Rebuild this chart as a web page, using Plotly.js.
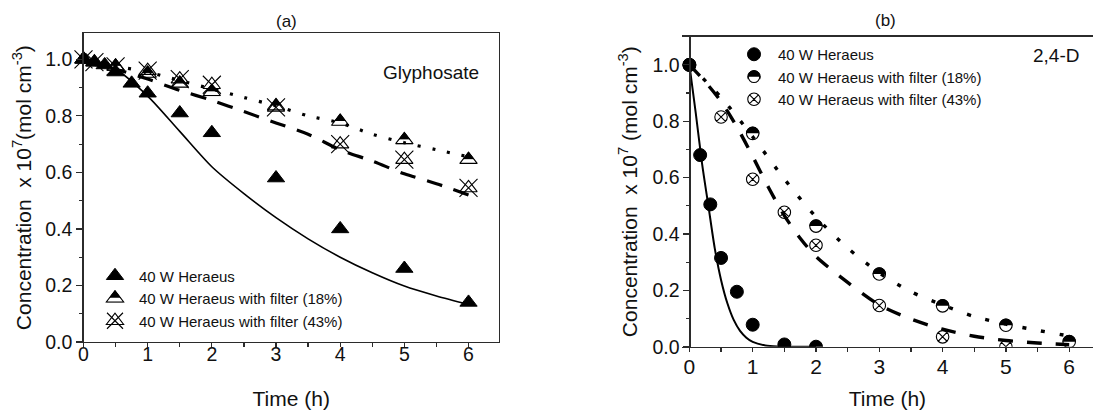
<!DOCTYPE html>
<html><head><meta charset="utf-8">
<script src="https://cdn.plot.ly/plotly-3.0.1.min.js"></script>
<style>html,body{margin:0;padding:0;background:#fff}#chart{width:1093px;height:410px}</style>
</head><body><div id="chart"></div>
<script>
// ---------- Panel (a): Glyphosate ----------
const glyTimeHeraeus = [0, 0.17, 0.33, 0.5, 0.75, 1, 1.5, 2, 3, 4, 5, 6];
const glyConcHeraeus = [1.0, 0.99, 0.98, 0.955, 0.915, 0.88, 0.81, 0.74, 0.58, 0.40, 0.26, 0.14];
const glyTimeFilter18 = [0, 0.5, 1, 1.5, 2, 3, 4, 5, 6];
const glyConcFilter18 = [1.0, 0.975, 0.95, 0.915, 0.885, 0.835, 0.78, 0.715, 0.645];
const glyTimeFilter43 = [0, 0.17, 0.5, 1, 1.5, 2, 3, 4, 5, 6];
const glyConcFilter43 = [1.0, 0.99, 0.975, 0.96, 0.93, 0.91, 0.83, 0.70, 0.645, 0.545];
const glyFitTime = [0, 0.5, 1, 1.5, 2, 2.5, 3, 3.5, 4, 4.5, 5, 5.5, 6];
const glyFitHeraeus = [1.0, 0.965, 0.87, 0.745, 0.62, 0.525, 0.44, 0.365, 0.30, 0.245, 0.198, 0.163, 0.133];
const glyFitFilter18 = [0.99, 0.975, 0.955, 0.925, 0.895, 0.865, 0.835, 0.80, 0.775, 0.735, 0.705, 0.68, 0.655];
const glyFitFilter43 = [0.99, 0.965, 0.93, 0.89, 0.855, 0.815, 0.775, 0.735, 0.68, 0.64, 0.595, 0.56, 0.52];

// ---------- Panel (b): 2,4-D ----------
const dTimeHeraeus = [0, 0.17, 0.33, 0.5, 0.75, 1, 1.5, 2];
const dConcHeraeus = [1.0, 0.68, 0.505, 0.315, 0.195, 0.078, 0.008, 0.0];
const dTimeFilter18 = [0, 1, 2, 3, 4, 5, 6];
const dConcFilter18 = [1.0, 0.757, 0.428, 0.258, 0.145, 0.076, 0.018];
const dTimeFilter43 = [0, 0.5, 1, 1.5, 2, 3, 4, 5];
const dConcFilter43 = [1.0, 0.815, 0.594, 0.477, 0.36, 0.146, 0.035, 0.0];
const dFitTimeHeraeus = [0, 0.1, 0.2, 0.3, 0.4, 0.5, 0.6, 0.7, 0.8, 0.9, 1.0, 1.2, 1.4, 1.7, 2.0];
const dFitHeraeus = [1.0, 0.83, 0.65, 0.50, 0.35, 0.237, 0.154, 0.095, 0.056, 0.032, 0.017, 0.0045, 0.001, 0, 0];
const dFitTime18 = [0, 0.5, 1, 1.5, 2, 2.5, 3, 3.5, 4, 4.5, 5, 5.5, 6];
const dFitFilter18 = [1.0, 0.885, 0.745, 0.595, 0.46, 0.35, 0.262, 0.195, 0.148, 0.107, 0.08, 0.058, 0.038];
const dFitTime43 = [0, 0.25, 0.5, 0.75, 1, 1.25, 1.5, 1.75, 2, 2.5, 3, 3.5, 4, 4.5, 5, 5.5, 6];
const dFitFilter43 = [1.0, 0.94, 0.87, 0.78, 0.675, 0.565, 0.465, 0.385, 0.32, 0.228, 0.148, 0.098, 0.062, 0.037, 0.022, 0.013, 0.007];

const seriesNames = ['40 W Heraeus', '40 W Heraeus with filter (18%)', '40 W Heraeus with filter (43%)'];
const panelTitles = ['(a)', '(b)'];
const compoundLabels = ['Glyphosate', '2,4-D'];
const xTitle = 'Time (h)';
const yTitleA = 'Concentration\u00a0 x 10<sup>7</sup>(mol cm<sup>-3</sup>)';
const yTitleB = 'Concentration\u00a0 x 10<sup>7</sup> (mol cm<sup>-3</sup>)';

const FONT = 'Arial, "Liberation Sans", sans-serif';
const AX = '#2b2b2b';
const CLEAR = 'rgba(0,0,0,0)';

function line(x, y, xa, ya, width, dash) {
  return {x: x, y: y, xaxis: xa, yaxis: ya, mode: 'lines', showlegend: false, hoverinfo: 'skip',
    line: {color: '#000', width: width, dash: dash, shape: 'spline', smoothing: 0.8}};
}
function pts(x, y, xa, ya, marker, extra) {
  return Object.assign({x: x, y: y, xaxis: xa, yaxis: ya, mode: 'markers', marker: marker, hoverinfo: 'skip'}, extra);
}
// legend-only overlay layer entries (no data points, empty label)
function overlay(xa, ya, legend, rank, marker) {
  return {x: [null], y: [null], xaxis: xa, yaxis: ya, mode: 'markers', legend: legend, legendrank: rank,
    name: '', hoverinfo: 'skip',
    marker: marker || {color: CLEAR, size: 10, line: {width: 0, color: CLEAR}}};
}

const TRI = 15;
const data = [
  // overlay legend layers for panel (a) (listed first so they stack in order)
  overlay('x', 'y', 'legend2', 1),
  overlay('x', 'y', 'legend2', 2, {symbol: 'line-ew', size: 13, angle: 180, standoff: 1.9, color: '#fff', line: {color: '#fff', width: 4.8}}),
  overlay('x', 'y', 'legend3', 1),
  overlay('x', 'y', 'legend3', 2, {symbol: 'triangle-up-open', size: TRI, color: '#000', line: {color: '#000', width: 1.1}}),
  overlay('x', 'y', 'legend3', 3),

  // panel (a) fitted curves (drawn on the label-carrying time axis x3, same scale as x)
  line(glyFitTime, glyFitHeraeus, 'x3', 'y', 1.6, 'solid'),
  line(glyFitTime, glyFitFilter18, 'x3', 'y', 3.2, '3px,12px'),
  line(glyFitTime, glyFitFilter43, 'x3', 'y', 3.2, '16px,12px'),
  // 18% : half filled triangles (black base, white lower band, outline)
  pts(glyTimeFilter18, glyConcFilter18, 'x', 'y', {symbol: 'triangle-up', size: TRI, color: '#000', line: {color: '#000', width: 1}},
      {name: seriesNames[1], legend: 'legend', legendrank: 2, cliponaxis: false}),
  pts(glyTimeFilter18, glyConcFilter18, 'x', 'y', {symbol: 'line-ew', size: 13, standoff: 1.9, line: {color: '#fff', width: 4.8}},
      {showlegend: false, cliponaxis: false}),
  pts(glyTimeFilter18, glyConcFilter18, 'x', 'y', {symbol: 'triangle-up-open', size: TRI, color: '#000', line: {color: '#000', width: 1.1}},
      {showlegend: false, cliponaxis: false}),
  // 43% : open triangle with a cross
  pts(glyTimeFilter43, glyConcFilter43, 'x', 'y', {symbol: 'triangle-up-open', size: TRI, color: '#000', line: {color: '#000', width: 1.1}},
      {name: seriesNames[2], legend: 'legend', legendrank: 3, cliponaxis: false}),
  pts(glyTimeFilter43, glyConcFilter43, 'x', 'y', {symbol: 'x-thin-open', size: 18, color: '#000', line: {color: '#000', width: 1.1}},
      {name: '', legend: 'legend2', legendrank: 3, cliponaxis: false}),
  // Heraeus : filled triangles
  pts(glyTimeHeraeus, glyConcHeraeus, 'x', 'y', {symbol: 'triangle-up', size: TRI, color: '#000', line: {color: '#000', width: 1}},
      {name: seriesNames[0], legend: 'legend', legendrank: 1, cliponaxis: false}),

  // panel (b) fitted curves (on x4, same scale as x2)
  line(dFitTimeHeraeus, dFitHeraeus, 'x4', 'y2', 2, 'solid'),
  line(dFitTime18, dFitFilter18, 'x4', 'y2', 3.4, '4px,15px'),
  line(dFitTime43, dFitFilter43, 'x4', 'y2', 3.4, '15px,14px'),
  // 18% half filled circles
  pts(dTimeFilter18, dConcFilter18, 'x2', 'y2', {symbol: 'circle', size: 12.5, color: '#000', line: {color: '#000', width: 1}},
      {name: seriesNames[1], legend: 'legend4', legendrank: 2}),
  pts(dTimeFilter18, dConcFilter18, 'x2', 'y2', {symbol: 'square', size: 13.5, standoff: 6.75, color: '#fff', line: {width: 0}},
      {showlegend: false}),
  pts(dTimeFilter18, dConcFilter18, 'x2', 'y2', {symbol: 'circle-open', size: 12.5, color: '#000', line: {color: '#000', width: 1.1}},
      {showlegend: false}),
  // 43% crossed circles
  pts(dTimeFilter43, dConcFilter43, 'x2', 'y2', {symbol: 'circle-x-open', size: 12.5, color: '#000', line: {color: '#000', width: 1.1}},
      {name: seriesNames[2], legend: 'legend4', legendrank: 3}),
  // Heraeus filled circles
  pts(dTimeHeraeus, dConcHeraeus, 'x2', 'y2', {symbol: 'circle', size: 13, color: '#000', line: {color: '#000', width: 1}},
      {name: seriesNames[0], legend: 'legend4', legendrank: 1}),

  // overlay legend layers for panel (b)
  overlay('x2', 'y2', 'legend5', 1),
  overlay('x2', 'y2', 'legend5', 2, {symbol: 'square', size: 12, angle: 180, standoff: 6, color: '#fff', line: {width: 0}}),
  overlay('x2', 'y2', 'legend5', 3),
  overlay('x2', 'y2', 'legend6', 1),
  overlay('x2', 'y2', 'legend6', 2, {symbol: 'circle-open', size: 11.5, color: '#000', line: {color: '#000', width: 1.1}}),
  overlay('x2', 'y2', 'legend6', 3)
];

function legendAt(x, y, visibleText) {
  return {x: x, y: y, xanchor: 'left', yanchor: 'top', bgcolor: CLEAR, borderwidth: 0, itemwidth: 38,
    traceorder: 'normal', itemclick: false, itemdoubleclick: false,
    font: {family: FONT, size: 15, color: visibleText ? '#111' : CLEAR}};
}
const LAx = 91 / 1093, LAy = 1 - 259.5 / 410;
const LBx = 730 / 1093, LBy = 1 - 38 / 410;

const axBase = {showgrid: false, zeroline: false, showline: true, linecolor: AX, linewidth: 1.3,
  ticks: 'outside', tickcolor: AX, tickwidth: 1.2, tickfont: {family: FONT, size: 19.5, color: '#111'}};
const minorX = {dtick: 0.5, ticks: 'outside', ticklen: 3.5, tickcolor: AX, tickwidth: 1.2};
const minorY = {dtick: 0.1, ticks: 'outside', ticklen: 3.5, tickcolor: AX, tickwidth: 1.2};
const titleFont = {family: FONT, size: 21, color: '#111'};

// label-carrying time axes, laid over the main ones with the same scale,
// placed a little closer to the plot than Plotly's default label gap
function labelAxis(base, range, posPx, size) {
  return {overlaying: base, anchor: 'free', position: 1 - posPx / 410, range: range, side: 'bottom',
    showline: false, ticks: '', showgrid: false, zeroline: false, tick0: 0, dtick: 1,
    tickfont: {family: FONT, size: size, color: '#111'}, title: {text: xTitle, font: titleFont}};
}

const layout = {
  width: 1093, height: 410, margin: {l: 0, r: 0, t: 0, b: 0},
  paper_bgcolor: '#fff', plot_bgcolor: 'rgba(0,0,0,0)',
  font: {family: FONT, color: '#111'},
  showlegend: true,
  xaxis: Object.assign({}, axBase, {domain: [83.5 / 1093, 499 / 1093], range: [0, 6.475], anchor: 'y', mirror: true,
    tick0: 0, dtick: 1, ticklen: 4, showticklabels: false, minor: minorX}),
  yaxis: Object.assign({}, axBase, {domain: [1 - 342 / 410, 1 - 33.3 / 410], range: [0, 1.092], anchor: 'x', mirror: true,
    tick0: 0, dtick: 0.2, tickformat: '.1f', ticklen: 6, minor: minorY,
    title: {text: yTitleA, font: titleFont}}),
  xaxis2: Object.assign({}, axBase, {domain: [681.8 / 1093, 1], range: [-0.12, 6.376], anchor: 'y2', mirror: true,
    tick0: 0, dtick: 1, ticklen: 4, showticklabels: false, minor: minorX}),
  yaxis2: Object.assign({}, axBase, {domain: [1 - 346.7 / 410, 1 - 36.7 / 410], range: [0, 1.1], anchor: 'free', position: 689.4 / 1093,
    mirror: false, tick0: 0, dtick: 0.2, tickformat: '.1f', ticklen: 6, minor: minorY,
    title: {text: yTitleB, font: titleFont}}),
  xaxis3: labelAxis('x', [0, 6.475], 340.7, 19.5),
  xaxis4: labelAxis('x2', [-0.12, 6.376], 352, 21),
  legend: legendAt(LAx, LAy, true),
  legend2: legendAt(LAx, LAy, false),
  legend3: legendAt(LAx, LAy, false),
  legend4: legendAt(LBx, LBy, true),
  legend5: legendAt(LBx, LBy, false),
  legend6: legendAt(LBx, LBy, false),
  annotations: [
    {text: panelTitles[0], xref: 'paper', yref: 'paper', x: 286.5 / 1093, y: 1 - 21.7 / 410, xanchor: 'center', yanchor: 'middle', showarrow: false, font: {family: FONT, size: 17, color: '#111'}},
    {text: panelTitles[1], xref: 'paper', yref: 'paper', x: 885 / 1093, y: 1 - 20.7 / 410, xanchor: 'center', yanchor: 'middle', showarrow: false, font: {family: FONT, size: 17, color: '#111'}},
    {text: compoundLabels[0], xref: 'paper', yref: 'paper', x: 430.8 / 1093, y: 1 - 72.7 / 410, xanchor: 'center', yanchor: 'middle', showarrow: false, font: {family: FONT, size: 19, color: '#111'}},
    {text: compoundLabels[1], xref: 'paper', yref: 'paper', x: 1056 / 1093, y: 1 - 55 / 410, xanchor: 'center', yanchor: 'middle', showarrow: false, font: {family: FONT, size: 19, color: '#111'}}
  ]
};

Plotly.newPlot('chart', data, layout, {staticPlot: true, displayModeBar: false});
</script>
</body></html>
